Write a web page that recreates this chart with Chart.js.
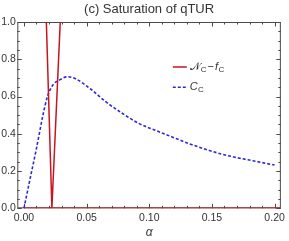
<!DOCTYPE html>
<html><head><meta charset="utf-8">
<script src="https://cdn.jsdelivr.net/npm/chart.js@4/dist/chart.umd.min.js"></script>
<style>html,body{margin:0;padding:0;background:#fff}</style>
</head><body>
<canvas id="c" width="289" height="241" style="display:block;width:289px;height:241px"></canvas>
<script>
// ---- data ----
const titleText = '(c) Saturation of qTUR';
const xAxisLabel = 'α';
const xTickValues = [0, 0.05, 0.10, 0.15, 0.20];
const xTickLabels = ['0.00', '0.05', '0.10', '0.15', '0.20'];
const yTickValues = [0, 0.2, 0.4, 0.6, 0.8, 1.0];
const yTickLabels = ['0.0', '0.2', '0.4', '0.6', '0.8', '1.0'];

const seriesNames = ['𝒩C − fC', 'CC'];

// N_C - f_C (red, V shape, zero elsewhere)
const redX = [0.0170, 0.0223, 0.0303];
const redY = [1.2, 0.0, 1.2];
const redFloorX = [0.0, 0.205];
const redFloorY = [0.0, 0.0];

// C_C (blue dashed)
const blueX = [0, 0.0047, 0.0100, 0.0152, 0.0187, 0.0231, 0.0284, 0.0350, 0.0416, 0.0534, 0.0653,
               0.0784, 0.0916, 0.1047, 0.1178, 0.1310, 0.1442, 0.1573, 0.1705, 0.1837, 0.2000];
const blueY = [0, 0.152, 0.322, 0.501, 0.599, 0.662, 0.689, 0.706, 0.694, 0.639, 0.572,
               0.510, 0.456, 0.419, 0.384, 0.349, 0.318, 0.292, 0.271, 0.254, 0.232];

// ---- styles ----
const RED = '#c8141e';
const BLUE = '#2a2ad8';
const FRAME = '#4a4a4a';
const TXT = '#333333';
const FONT = '"Liberation Sans", Arial, sans-serif';

const pts = (xs, ys) => xs.map((x, i) => ({x: x, y: ys[i]}));

const framePlugin = {
  id: 'frame',
  beforeDatasetsDraw(chart) {
    const {ctx, chartArea: a, scales: {x, y}} = chart;
    ctx.save();
    ctx.strokeStyle = FRAME;
    ctx.lineWidth = 1;
    ctx.strokeRect(a.left + 0.5, a.top + 0.5, a.right - a.left - 1, a.bottom - a.top - 1);
    ctx.beginPath();
    // x ticks (major every 0.05, minor every 0.01)
    for (let k = 0; k <= 20; k++) {
      const v = k * 0.01;
      const px = Math.round(x.getPixelForValue(v)) + 0.5;
      const len = (k % 5 === 0) ? 4.5 : 2.5;
      ctx.moveTo(px, a.bottom); ctx.lineTo(px, a.bottom - len);
      ctx.moveTo(px, a.top); ctx.lineTo(px, a.top + len);
    }
    // y ticks (major every 0.2, minor every 0.05)
    for (let k = 0; k <= 20; k++) {
      const v = k * 0.05;
      const py = Math.round(y.getPixelForValue(v)) + 0.5;
      const len = (k % 4 === 0) ? 4.5 : 2.5;
      ctx.moveTo(a.left, py); ctx.lineTo(a.left + len, py);
      ctx.moveTo(a.right, py); ctx.lineTo(a.right - len, py);
    }
    ctx.stroke();
    ctx.restore();
  }
};

function drawRich(ctx, parts, x, y) {
  let cx = x;
  for (const p of parts) {
    ctx.font = p.font;
    ctx.fillText(p.t, cx, y + (p.dy || 0));
    cx += ctx.measureText(p.t).width + (p.gap || 0);
  }
}

const legendPlugin = {
  id: 'legend2',
  afterDatasetsDraw(chart) {
    const {ctx, chartArea: a} = chart;
    const lx = a.left + 155.5, ly1 = a.top + 45, ly2 = a.top + 65.3;
    ctx.save();
    ctx.lineWidth = 1.5;
    ctx.strokeStyle = RED;
    ctx.beginPath(); ctx.moveTo(lx, ly1); ctx.lineTo(lx + 14, ly1); ctx.stroke();
    ctx.strokeStyle = BLUE;
    ctx.setLineDash([3, 2]);
    ctx.beginPath(); ctx.moveTo(lx, ly2); ctx.lineTo(lx + 14, ly2); ctx.stroke();
    ctx.setLineDash([]);
    ctx.fillStyle = TXT;
    ctx.textBaseline = 'middle';
    const main = 'italic 11px ' + FONT, sub = '8px ' + FONT, reg = '11px ' + FONT;
    drawRich(ctx, [
      {t: '𝒩', font: '11px "DejaVu Sans", ' + FONT},
      {t: 'C', font: sub, dy: 2.5, gap: 1},
      {t: '−', font: reg, gap: 1},
      {t: 'f', font: main, gap: 0.5},
      {t: 'C', font: sub, dy: 2.5}
    ], lx + 17, ly1);
    drawRich(ctx, [
      {t: 'C', font: main, gap: 0.3},
      {t: 'C', font: sub, dy: 2.5}
    ], lx + 17, ly2);
    ctx.restore();
  }
};

new Chart(document.getElementById('c'), {
  type: 'scatter',
  data: {
    datasets: [
      {label: seriesNames[0], data: pts(redX, redY), showLine: true, borderColor: RED,
       backgroundColor: RED, borderWidth: 1.5, pointRadius: 0, tension: 0},
      {label: seriesNames[0] + ' (zero)', data: pts(redFloorX, redFloorY), showLine: true,
       borderColor: RED, borderWidth: 1.5, pointRadius: 0, tension: 0},
      {label: seriesNames[1], data: pts(blueX, blueY), showLine: true, borderColor: BLUE,
       backgroundColor: BLUE, borderWidth: 1.6, borderDash: [3, 2], pointRadius: 0,
       cubicInterpolationMode: 'monotone'}
    ]
  },
  options: {
    responsive: false,
    animation: false,
    devicePixelRatio: 1,
    layout: {padding: {left: 0, right: 5.3, top: 0, bottom: 0}},
    plugins: {
      legend: {display: false},
      tooltip: {enabled: false},
      title: {
        display: true, text: titleText, fullSize: false, color: TXT,
        font: {family: FONT, size: 13, weight: 'normal'},
        padding: {top: 1.2, bottom: 5.2}
      }
    },
    scales: {
      x: {
        type: 'linear', min: -0.0053, max: 0.205,
        grid: {display: false, drawTicks: false},
        border: {display: false},
        afterBuildTicks: s => { s.ticks = xTickValues.map(v => ({value: v})); },
        afterFit: s => { s.height = 32.7; },
        ticks: {
          color: TXT, padding: 4, maxRotation: 0, autoSkip: false,
          font: {family: FONT, size: 10.5},
          callback: (v, i) => xTickLabels[i]
        },
        title: {display: true, text: xAxisLabel, color: TXT,
                font: {family: FONT, size: 12, style: 'italic'},
                padding: {top: 0, bottom: 1.5}}
      },
      y: {
        type: 'linear', min: 0, max: 1,
        grid: {display: false, drawTicks: false},
        border: {display: false},
        afterBuildTicks: s => { s.ticks = yTickValues.map(v => ({value: v})); },
        afterFit: s => { s.width = 17.3; },
        ticks: {
          color: TXT, padding: 1.5,
          font: {family: FONT, size: 10.5},
          callback: (v, i) => yTickLabels[i]
        }
      }
    }
  },
  plugins: [framePlugin, legendPlugin]
});
</script>
</body></html>
